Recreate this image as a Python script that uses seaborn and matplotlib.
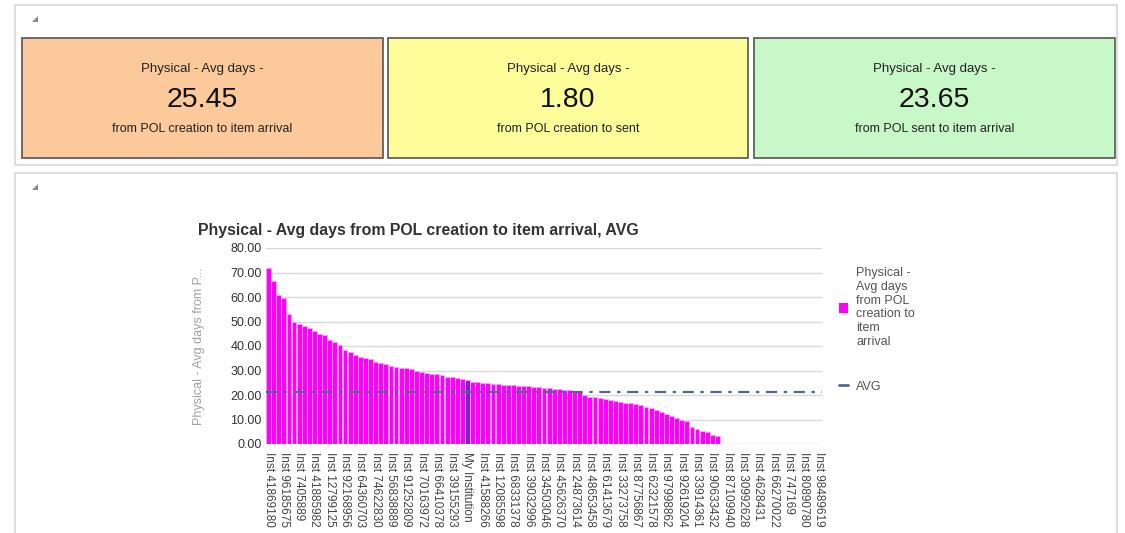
import numpy as np
import seaborn as sns
import matplotlib.pyplot as plt
from matplotlib.patches import Rectangle, Polygon, Patch
from matplotlib.lines import Line2D

# KPI cards
card_values = ["25.45", "1.80", "23.65"]
card_subtitles = ["from POL creation to item arrival", "from POL creation to sent",
                  "from POL sent to item arrival"]
card_colors = ["#fcc99b", "#fdfd9a", "#c8f7c8"]

# bar values per institution, sorted (trailing institutions have no value)
bar_values = [72, 66.5, 61, 59.5, 53, 50, 49, 48, 47.5, 46,
              45, 44.5, 42.5, 41.5, 40.5, 38.5, 37.5, 36.5, 35.5, 35,
              34.5, 33.5, 33, 32.5, 32, 31.5, 31, 31, 30.5, 30,
              29.5, 29, 28.5, 28.5, 28, 27.5, 27.5, 27, 26.5, 26,
              25.5, 25.3, 25, 24.8, 24.5, 24.3, 24.2, 24, 24, 23.8,
              23.7, 23.5, 23.3, 23.2, 23, 22.8, 22.6, 22.4, 22.2, 22,
              21.6, 21.2, 20, 19.3, 19, 18.8, 18.4, 18, 17.6, 17.2,
              16.9, 16.6, 16.2, 15.8, 15.2, 14.6, 13.8, 13, 12.2, 11.5,
              10.7, 9.9, 9.2, 6.8, 6.2, 5.5, 4.8, 3.6, 3.2]
n_empty = 20
my_institution_index = 39
avg_value = 21.1

# every third institution is labelled on the axis
tick_labels = ["Inst 41869180", "Inst 96185675", "Inst 7405889", "Inst 41885982",
               "Inst 12799125", "Inst 92168956", "Inst 64360703", "Inst 74622830",
               "Inst 56838889", "Inst 91252809", "Inst 70163972", "Inst 66410378",
               "Inst 39155293", "My Institution", "Inst 41588266", "Inst 12085598",
               "Inst 68331378", "Inst 39032996", "Inst 34503046", "Inst 45626370",
               "Inst 24873614", "Inst 48653458", "Inst 61413679", "Inst 33273758",
               "Inst 87756867", "Inst 62321578", "Inst 97998862", "Inst 92619204",
               "Inst 33914361", "Inst 90633432", "Inst 87109940", "Inst 30992628",
               "Inst 4628431", "Inst 66270022", "Inst 747169", "Inst 80890780",
               "Inst 98489619"]
label_step = 3
y_ticks = [0, 10, 20, 30, 40, 50, 60, 70, 80]

sns.set_style("white")
plt.rcParams['font.family'] = ['Liberation Sans', 'DejaVu Sans']

W, H = 1125, 533
fig = plt.figure(figsize=(W / 100, H / 100), dpi=100)


def fx(x):
    return x / W


def fy(y):
    return 1 - y / H


# panels
for top, bottom in [(5, 165), (173, 545)]:
    fig.add_artist(Rectangle((fx(15), fy(bottom)), fx(1117) - fx(15), fy(top) - fy(bottom),
                             transform=fig.transFigure, fill=False,
                             edgecolor="#dedede", linewidth=1.5))
    fig.add_artist(Polygon([(fx(32), fy(top + 17)), (fx(38), fy(top + 17)), (fx(38), fy(top + 11))],
                           closed=True, transform=fig.transFigure,
                           facecolor="#8a8a8a", edgecolor="none"))

# cards
card_x = [(22, 383), (388, 748), (754, 1115)]
for (x0, x1), val, sub, col in zip(card_x, card_values, card_subtitles, card_colors):
    fig.add_artist(Rectangle((fx(x0), fy(158)), fx(x1) - fx(x0), fy(38) - fy(158),
                             transform=fig.transFigure, facecolor=col,
                             edgecolor="#555555", linewidth=1.2))
    cx = fx((x0 + x1) / 2)
    fig.text(cx, fy(69), "Physical - Avg days -", ha="center", va="center",
             fontsize=9.5, color="#222222")
    fig.text(cx, fy(100), val, ha="center", va="center", fontsize=20.5, color="#111111")
    fig.text(cx, fy(129), sub, ha="center", va="center", fontsize=9, color="#222222")

# bar chart
values = bar_values + [np.nan] * n_empty
positions = list(range(len(values)))
colors = ["#ff00ff"] * len(values)
colors[my_institution_index] = "#7a22d6"

ax = fig.add_axes([fx(266), fy(444), fx(822) - fx(266), fy(248) - fy(444)])
sns.barplot(x=positions, y=values, order=positions, hue=positions, palette=colors,
            legend=False, width=0.95, saturation=1, edgecolor="#f5a3f5",
            linewidth=0.7, ax=ax)
ax.axhline(avg_value, color="#4d6a8c", linewidth=1.6, linestyle=(0, (5, 3, 1.5, 3)), zorder=3)

ax.set_ylim(0, 80)
ax.set_xlim(-0.5, len(values) - 0.5)
ax.set_yticks(y_ticks)
ax.set_yticklabels([f"{v:.2f}" for v in y_ticks], fontsize=9, color="#333333")
ax.grid(axis="y", color="#d9d9d9", linewidth=1)
ax.set_axisbelow(True)
ax.set_xticks(positions[::label_step])
ax.set_xticklabels(tick_labels, rotation=-90, fontsize=8.5, color="#444444")
ax.tick_params(axis="both", length=0)
ax.tick_params(axis="x", pad=6)
ax.tick_params(axis="y", pad=3)
for s in ax.spines.values():
    s.set_visible(False)
ax.set_xlabel("")
ax.set_ylabel("Physical - Avg days from P...", fontsize=9, color="#a0a0a0")
ax.yaxis.set_label_coords(-0.11, 0.5)

fig.text(fx(198), fy(230), "Physical - Avg days from POL creation to item arrival, AVG",
         ha="left", va="center", fontsize=11.4, fontweight="bold", color="#333333")

handles = [Patch(facecolor="#ff00ff", edgecolor="none"),
           Line2D([0], [0], color="#4d6a8c", linewidth=2)]
leg = ax.legend(handles, ["Physical -\nAvg days\nfrom POL\ncreation to\nitem\narrival", "AVG"],
                loc="upper left", bbox_to_anchor=(1.01, 0.96), frameon=False,
                fontsize=9, handlelength=0.7, handleheight=0.9, labelspacing=2.6,
                handletextpad=0.7, labelcolor="#555555")

fig.savefig("out.png", dpi=100)
